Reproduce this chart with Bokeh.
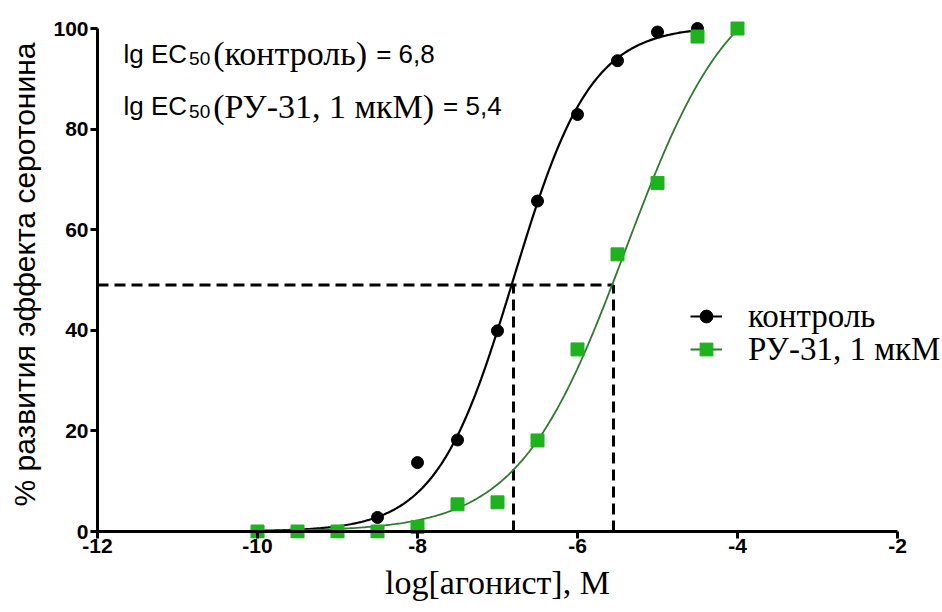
import glob
import os
import numpy as np
from bokeh.plotting import figure
from bokeh.models import Range1d, Label, Legend, LegendItem, FixedTicker, LinearAxis, Title
from bokeh.embed import file_html
from bokeh.resources import INLINE

# ---------------- data ----------------
log_conc_control = [-8.5, -8.0, -7.5, -7.0, -6.5, -6.0, -5.5, -5.0, -4.5]
resp_control = [2.8, 13.7, 18.2, 39.9, 65.7, 82.9, 93.6, 99.3, 100.0]

log_conc_ru31 = [-10.0, -9.5, -9.0, -8.5, -8.0, -7.5, -7.0, -6.5, -6.0, -5.5, -5.0, -4.5, -4.0]
resp_ru31 = [0.0, 0.0, 0.0, 0.0, 0.9, 5.4, 5.8, 18.1, 36.2, 55.1, 69.3, 98.4, 100.0]

# fitted sigmoid (4-parameter logistic) parameters
fit_control = dict(bottom=0.0, top=100.5, logec50=-6.8, hill=0.9, x0=-10.0, x1=-4.5)
fit_ru31 = dict(bottom=0.0, top=112.0, logec50=-5.4, hill=0.65, x0=-10.0, x1=-4.0)

half_effect = 49.0
ec50_marks = [-6.8, -5.55]

x_ticks = [-12, -10, -8, -6, -4, -2]
x_tick_labels = ["-12", "-10", "-8", "-6", "-4", "-2"]
y_ticks = [0, 20, 40, 60, 80, 100]
y_tick_labels = ["0", "20", "40", "60", "80", "100"]

series_names = ["контроль", "РУ-31, 1 мкМ"]
x_title = "log[агонист], М"
y_title = "% развития эффекта серотонина"
ann_prefix = "lg EC"
ann_sub = "50"
ann_mid = ["(контроль)", "(РУ-31, 1 мкМ)"]
ann_tail = ["= 6,8", "= 5,4"]

# ---------------- helpers ----------------
def find_font(fname):
    for d in ["/usr/share/fonts", "/usr/local/share/fonts", os.path.expanduser("~/.fonts")]:
        hits = glob.glob(os.path.join(d, "**", fname), recursive=True)
        if hits:
            return hits[0]
    return None

def text_width(text, fname, size):
    try:
        from PIL import ImageFont
        path = find_font(fname)
        if path:
            return ImageFont.truetype(path, size).getlength(text)
    except Exception:
        pass
    return len(text) * 0.55 * size

def logistic(f):
    xs = np.linspace(f["x0"], f["x1"], 300)
    ys = f["bottom"] + (f["top"] - f["bottom"]) / (1 + 10 ** ((f["logec50"] - xs) * f["hill"]))
    return xs, ys

SANS = "Liberation Sans"
SERIF = "Liberation Serif"
SANS_FILE = "LiberationSans-Regular.ttf"
SERIF_FILE = "LiberationSerif-Regular.ttf"
BLACK = "#000000"
GREEN_MK = "#1fb21f"
GREEN_LN = "#2e7a2e"

p = figure(width=940, height=612, output_backend="svg", toolbar_location=None,
           x_axis_location=None,
           x_range=Range1d(-12, -1.4625), y_range=Range1d(-1.39, 103.58),
           min_border_left=97, min_border_right=0, min_border_top=10, min_border_bottom=74)
p.outline_line_color = None
p.grid.visible = False

def style_axis(ax):
    ax.axis_line_width = 3
    ax.axis_line_color = BLACK
    ax.major_tick_line_width = 3
    ax.major_tick_line_color = BLACK
    ax.minor_tick_out = 0
    ax.minor_tick_in = 0
    ax.major_label_text_font = SANS
    ax.major_label_text_font_size = "21px"
    ax.major_label_text_font_style = "bold"
    ax.major_label_text_color = BLACK
    ax.axis_label_text_font_style = "normal"
    ax.axis_label_text_color = BLACK

# x axis: tick labels at the frame bottom, ticks drawn upward to y=0
xa_labels = LinearAxis(ticker=FixedTicker(ticks=x_ticks), bounds=(-12, -2),
                       major_label_overrides={t: s for t, s in zip(x_ticks, x_tick_labels)})
style_axis(xa_labels)
xa_labels.axis_line_color = None
xa_labels.major_tick_in = 7
xa_labels.major_tick_out = 0
xa_labels.major_label_standoff = 0
p.add_layout(xa_labels, "below")

# x axis line at y = 0
xa_line = LinearAxis(ticker=FixedTicker(ticks=[]), fixed_location=0, bounds=(-12, -2))
style_axis(xa_line)
xa_line.major_tick_in = 0
xa_line.major_tick_out = 0
xa_line.major_label_standoff = 0
p.add_layout(xa_line, "below")

# x axis title, centred under the -12..-2 axis (not under the wider frame)
title_size = 34
title_w = text_width(x_title, SERIF_FILE, title_size)
axis_px = 800.0  # pixel length of the -12..-2 axis
p.add_layout(Title(text=x_title, align="left", offset=(axis_px - title_w) / 2,
                   text_font=SERIF, text_font_size=f"{title_size}px",
                   text_font_style="normal", text_color=BLACK, standoff=12), "below")

ya = p.yaxis[0]
style_axis(ya)
ya.bounds = (0, 100)
ya.ticker = FixedTicker(ticks=y_ticks)
ya.major_label_overrides = {t: s for t, s in zip(y_ticks, y_tick_labels)}
ya.major_tick_out = 7
ya.major_tick_in = 0
ya.major_label_standoff = 2
ya.axis_label = y_title
ya.axis_label_text_font = SANS
ya.axis_label_text_font_size = "30px"
ya.axis_label_standoff = 9

# dashed EC50 guides
p.line([x_ticks[0], max(ec50_marks)], [half_effect, half_effect], line_color=BLACK,
       line_width=3, line_dash="11 6")
for xm in ec50_marks:
    p.line([xm, xm], [0, half_effect], line_color=BLACK, line_width=3, line_dash="11 6")

# curves and points
xc, yc = logistic(fit_control)
xg, yg = logistic(fit_ru31)
line_c = p.line(xc, yc, line_color=BLACK, line_width=2.2)
line_g = p.line(xg, yg, line_color=GREEN_LN, line_width=1.8)
sc_c = p.scatter(log_conc_control, resp_control, marker="circle", size=12,
                 fill_color=BLACK, line_color=BLACK)
sc_g = p.scatter(log_conc_ru31, resp_ru31, marker="square", size=13,
                 fill_color=GREEN_MK, line_color=GREEN_MK)

# legend: one single-item legend per series so the rows sit exactly where they should
for name, rends, loc in [(series_names[0], [line_c, sc_c], (593, 202)),
                         (series_names[1], [line_g, sc_g], (593, 169))]:
    p.add_layout(Legend(items=[LegendItem(label=name, renderers=rends)],
                        location=loc, orientation="vertical",
                        border_line_color=None, background_fill_alpha=0,
                        label_text_font=SERIF, label_text_font_size="33px",
                        label_text_color=BLACK,
                        glyph_width=32, glyph_height=40, label_height=40, spacing=0,
                        padding=0, margin=0, label_standoff=26))

# annotation text (mixed fonts)
x_start = -11.675
baselines = [95.0, 84.5]
SANS_SIZE, SUB_SIZE, SERIF_SIZE = 26, 19, 34
for i in range(2):
    y = baselines[i]
    off = 0.0
    p.add_layout(Label(x=x_start, y=y, x_offset=off, text=ann_prefix, text_font=SANS,
                       text_font_size=f"{SANS_SIZE}px", text_baseline="alphabetic",
                       text_color=BLACK))
    off += text_width(ann_prefix, SANS_FILE, SANS_SIZE) + 2
    p.add_layout(Label(x=x_start, y=y, x_offset=off, y_offset=-5, text=ann_sub, text_font=SANS,
                       text_font_size=f"{SUB_SIZE}px", text_baseline="alphabetic",
                       text_color=BLACK))
    off += text_width(ann_sub, SANS_FILE, SUB_SIZE) + 3
    p.add_layout(Label(x=x_start, y=y, x_offset=off, text=ann_mid[i], text_font=SERIF,
                       text_font_size=f"{SERIF_SIZE}px", text_baseline="alphabetic",
                       text_color=BLACK))
    off += text_width(ann_mid[i], SERIF_FILE, SERIF_SIZE) + 9
    p.add_layout(Label(x=x_start, y=y, x_offset=off, text=ann_tail[i], text_font=SANS,
                       text_font_size=f"{SANS_SIZE}px", text_baseline="alphabetic",
                       text_color=BLACK))

open("out.html", "w").write(file_html(p, INLINE))
